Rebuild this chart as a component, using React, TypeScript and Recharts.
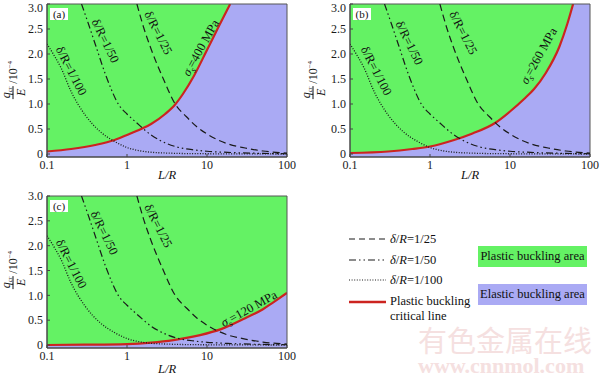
import React from "react";
import {
  ComposedChart,
  Area,
  Line,
  XAxis,
  YAxis,
  CartesianGrid,
  ReferenceArea,
} from "recharts";

const SERIF = "Liberation Serif, DejaVu Serif, serif";
const GREEN = "#64f264";
const PURPLE = "#aaaaf4";
const RED = "#cc2420";
const INK = "#1a1a1a";

const X_TICKS = [0.1, 1, 10, 100];
const Y_TICKS = [0, 0.5, 1, 1.5, 2, 2.5, 3];
const Y_MIN = -0.06;
const Y_MAX = 3;

// elastic buckling curves (same in all three panels)
const LR_25 = [1.33, 1.6, 2, 2.85, 4, 5.5, 7.4, 10, 17.6, 30, 50, 100];
const Q_25 = [3.0, 2.55, 2.1, 1.5, 1.0, 0.75, 0.55, 0.4, 0.21, 0.12, 0.06, 0.02];

const LR_50 = [0.27, 0.33, 0.41, 0.55, 0.8, 1, 1.33, 2, 2.6, 4, 7, 10, 20, 50, 100];
const Q_50 = [3.0, 2.6, 2.15, 1.55, 0.97, 0.8, 0.62, 0.38, 0.27, 0.15, 0.08, 0.055, 0.03, 0.012, 0.005];

const LR_100 = [0.1, 0.125, 0.15, 0.2, 0.3, 0.46, 0.7, 1, 1.5, 2, 3, 5, 10, 30, 100];
const Q_100 = [2.2, 1.95, 1.72, 1.25, 0.78, 0.45, 0.25, 0.13, 0.06, 0.035, 0.02, 0.01, 0.005, 0.002, 0];

// plastic buckling critical lines
const LR_A = [0.1, 0.2, 0.4, 0.7, 1, 1.5, 2, 3, 4, 5, 6.8, 10, 14, 19.5];
const Q_A = [0.05, 0.1, 0.18, 0.28, 0.38, 0.5, 0.6, 0.8, 0.99, 1.2, 1.55, 2.08, 2.55, 3.0];

const LR_B = [0.1, 0.3, 0.6, 1, 2, 3.4, 6.5, 10, 15, 20, 28, 41.5, 52, 61.5];
const Q_B = [0.02, 0.05, 0.1, 0.15, 0.28, 0.41, 0.62, 0.85, 1.1, 1.3, 1.62, 2.15, 2.6, 3.0];

const LR_C = [0.1, 0.3, 1, 2, 3.8, 8.2, 15, 30, 50, 66, 100];
const Q_C = [0.0, 0.006, 0.02, 0.05, 0.1, 0.2, 0.32, 0.54, 0.72, 0.85, 1.05];

const toPoints = (xs: number[], qs: number[]) => xs.map((x, i) => ({ x, q: qs[i] }));

const d25 = toPoints(LR_25, Q_25);
const d50 = toPoints(LR_50, Q_50);
const d100 = toPoints(LR_100, Q_100);

const tickStyle = { fontSize: 12, fill: INK, fontFamily: SERIF };

function CurveLabel({ x, y, angle, children }: any) {
  return (
    <div
      style={{
        position: "absolute",
        left: x,
        top: y,
        transform: `translate(-50%, -50%) rotate(${angle}deg)`,
        whiteSpace: "nowrap",
        fontSize: 12.5,
        lineHeight: 1,
        fontFamily: SERIF,
        color: "#111",
      }}
    >
      {children}
    </div>
  );
}

function YLabel({ x, y }: { x: number; y: number }) {
  return (
    <div
      style={{
        position: "absolute",
        left: x,
        top: y,
        transform: "translate(-50%, -50%) rotate(-90deg)",
        display: "flex",
        alignItems: "center",
        fontFamily: SERIF,
        fontSize: 12,
        whiteSpace: "nowrap",
        color: "#111",
      }}
    >
      <div style={{ display: "flex", flexDirection: "column", alignItems: "center", fontStyle: "italic", lineHeight: 1 }}>
        <span style={{ borderBottom: "1px solid #111", padding: "0 1px 1px" }}>
          q<span style={{ fontSize: 7, fontStyle: "normal", position: "relative", top: 2 }}>cr</span>
        </span>
        <span style={{ paddingTop: 1 }}>E</span>
      </div>
      <span style={{ marginLeft: 2 }}>
        /10<span style={{ fontSize: 7, position: "relative", top: -5 }}>−4</span>
      </span>
    </div>
  );
}

function Panel({ left, top, height, marginTop, yWidth, rightMargin, xHeight, red }: any) {
  return (
    <div style={{ position: "absolute", left, top }}>
      <ComposedChart
        width={300}
        height={height}
        margin={{ top: marginTop, right: rightMargin, bottom: 0, left: 0 }}
      >
        <CartesianGrid horizontal={false} vertical={false} fill={PURPLE} fillOpacity={1} />
        <XAxis
          dataKey="x"
          type="number"
          scale="log"
          domain={[0.1, 100]}
          ticks={X_TICKS}
          allowDataOverflow
          height={xHeight}
          tickSize={-3}
          tickMargin={6}
          tickFormatter={(v: number) => String(v)}
          tick={tickStyle}
          stroke="#444"
        />
        <YAxis
          type="number"
          domain={[Y_MIN, Y_MAX]}
          ticks={Y_TICKS}
          allowDataOverflow
          width={yWidth}
          tickSize={-3}
          tickMargin={7}
          tickFormatter={(v: number) => (v === 0 ? "0" : v.toFixed(1))}
          tick={tickStyle}
          stroke="#444"
        />
        <Area
          data={red}
          dataKey="q"
          type="monotone"
          baseValue="dataMax"
          fill={GREEN}
          fillOpacity={1}
          stroke={RED}
          strokeWidth={2.2}
          dot={false}
          activeDot={false}
          isAnimationActive={false}
        />
        <Line data={d25} dataKey="q" type="monotone" stroke={INK} strokeWidth={1.2} strokeDasharray="7 4" dot={false} isAnimationActive={false} />
        <Line data={d50} dataKey="q" type="monotone" stroke={INK} strokeWidth={1.2} strokeDasharray="7 3 1.5 3 1.5 3" dot={false} isAnimationActive={false} />
        <Line data={d100} dataKey="q" type="monotone" stroke={INK} strokeWidth={1.3} strokeDasharray="1 1.6" dot={false} isAnimationActive={false} />
        <ReferenceArea x1={0.1} x2={100} y1={Y_MIN} y2={Y_MAX} fill="none" stroke="#555" strokeWidth={1} />
      </ComposedChart>
    </div>
  );
}

function PanelTag({ x, y, text }: { x: number; y: number; text: string }) {
  return (
    <div
      style={{
        position: "absolute",
        left: x,
        top: y,
        width: 18,
        height: 12,
        background: "#fff",
        fontFamily: SERIF,
        fontSize: 11,
        lineHeight: "12px",
        textAlign: "center",
        color: "#111",
      }}
    >
      {text}
    </div>
  );
}

function AxisTitle({ x, y }: { x: number; y: number }) {
  return (
    <div
      style={{
        position: "absolute",
        left: x,
        top: y,
        transform: "translate(-50%, -50%)",
        fontFamily: SERIF,
        fontSize: 12.5,
        fontStyle: "italic",
        color: "#111",
      }}
    >
      L/R
    </div>
  );
}

const Sigma = ({ v }: { v: string }) => (
  <>
    <i>σ</i>
    <i style={{ fontSize: "0.7em", position: "relative", top: 3 }}>s</i>={v} MPa
  </>
);

function LegendRow({ y, dash, text }: { y: number; dash: string; text: React.ReactNode }) {
  return (
    <>
      <svg style={{ position: "absolute", left: 349, top: y - 3 }} width={38} height={6}>
        <line x1={0} y1={3} x2={37} y2={3} stroke={INK} strokeWidth={1.2} strokeDasharray={dash} />
      </svg>
      <div
        style={{
          position: "absolute",
          left: 390,
          top: y,
          transform: "translateY(-50%)",
          fontFamily: SERIF,
          fontSize: 12.5,
          color: "#111",
          whiteSpace: "nowrap",
        }}
      >
        {text}
      </div>
    </>
  );
}

const DeltaR = ({ r }: { r: string }) => (
  <>
    <i>δ</i>/<i>R</i>={r}
  </>
);

export default function App() {
  return (
    <div
      style={{
        position: "fixed",
        left: 0,
        top: 0,
        width: 600,
        height: 377,
        background: "#fff",
        overflow: "hidden",
      }}
    >
      {/* watermark */}
      <div
        style={{
          position: "absolute",
          left: 418,
          top: 325,
          fontFamily: "Noto Sans CJK SC, sans-serif",
          fontSize: 29,
          lineHeight: 1,
          color: "#f5e0e0",
          whiteSpace: "nowrap",
        }}
      >
        有色金属在线
      </div>
      <div
        style={{
          position: "absolute",
          left: 418,
          top: 355,
          fontFamily: SERIF,
          fontWeight: "bold",
          fontSize: 22,
          lineHeight: 1,
          color: "#f5e0e0",
          whiteSpace: "nowrap",
        }}
      >
        www.cnnmol.com
      </div>

      <Panel left={0} top={0} height={180} marginTop={4} yWidth={47} rightMargin={13} xHeight={23} red={toPoints(LR_A, Q_A)} />
      <Panel left={300} top={0} height={180} marginTop={4} yWidth={50} rightMargin={10} xHeight={23} red={toPoints(LR_B, Q_B)} />
      <Panel left={0} top={180} height={197} marginTop={16} yWidth={47} rightMargin={13} xHeight={29} red={toPoints(LR_C, Q_C)} />

      <PanelTag x={50} y={8} text="(a)" />
      <PanelTag x={353} y={8} text="(b)" />
      <PanelTag x={50} y={200} text="(c)" />

      <YLabel x={13} y={80} />
      <YLabel x={313} y={80} />
      <YLabel x={13} y={270} />

      <AxisTitle x={167} y={175} />
      <AxisTitle x={470} y={175} />
      <AxisTitle x={167} y={369} />

      {/* panel (a) */}
      <CurveLabel x={71} y={71} angle={63}>δ/R=1/100</CurveLabel>
      <CurveLabel x={105} y={41} angle={64}>δ/R=1/50</CurveLabel>
      <CurveLabel x={158} y={33} angle={63}>δ/R=1/25</CurveLabel>
      <CurveLabel x={201} y={48} angle={-61}><Sigma v="400" /></CurveLabel>

      {/* panel (b) */}
      <CurveLabel x={376} y={71} angle={63}>δ/R=1/100</CurveLabel>
      <CurveLabel x={409} y={43} angle={64}>δ/R=1/50</CurveLabel>
      <CurveLabel x={463} y={33} angle={63}>δ/R=1/25</CurveLabel>
      <CurveLabel x={539} y={56} angle={-61}><Sigma v="260" /></CurveLabel>

      {/* panel (c) */}
      <CurveLabel x={71} y={264} angle={63}>δ/R=1/100</CurveLabel>
      <CurveLabel x={104} y={233} angle={64}>δ/R=1/50</CurveLabel>
      <CurveLabel x={158} y={226} angle={63}>δ/R=1/25</CurveLabel>
      <CurveLabel x={249} y={309} angle={-29}><Sigma v="120" /></CurveLabel>

      {/* legend */}
      <LegendRow y={239} dash="6 4" text={<DeltaR r="1/25" />} />
      <LegendRow y={260} dash="7 3 1.5 3 1.5 3" text={<DeltaR r="1/50" />} />
      <LegendRow y={280} dash="1 1.6" text={<DeltaR r="1/100" />} />
      <svg style={{ position: "absolute", left: 349, top: 299 }} width={38} height={6}>
        <line x1={0} y1={3} x2={37} y2={3} stroke={RED} strokeWidth={2.6} />
      </svg>
      <div
        style={{
          position: "absolute",
          left: 390,
          top: 294,
          fontFamily: SERIF,
          fontSize: 12.5,
          lineHeight: "15px",
          color: "#111",
          whiteSpace: "nowrap",
        }}
      >
        Plastic buckling
        <br />
        critical line
      </div>
      <div
        style={{
          position: "absolute",
          left: 478,
          top: 246,
          width: 109,
          height: 21,
          background: GREEN,
          fontFamily: SERIF,
          fontSize: 12.5,
          lineHeight: "21px",
          textAlign: "center",
          color: "#111",
          whiteSpace: "nowrap",
        }}
      >
        Plastic buckling area
      </div>
      <div
        style={{
          position: "absolute",
          left: 478,
          top: 284,
          width: 109,
          height: 21,
          background: PURPLE,
          fontFamily: SERIF,
          fontSize: 12.5,
          lineHeight: "21px",
          textAlign: "center",
          color: "#111",
          whiteSpace: "nowrap",
        }}
      >
        Elastic buckling area
      </div>
    </div>
  );
}
